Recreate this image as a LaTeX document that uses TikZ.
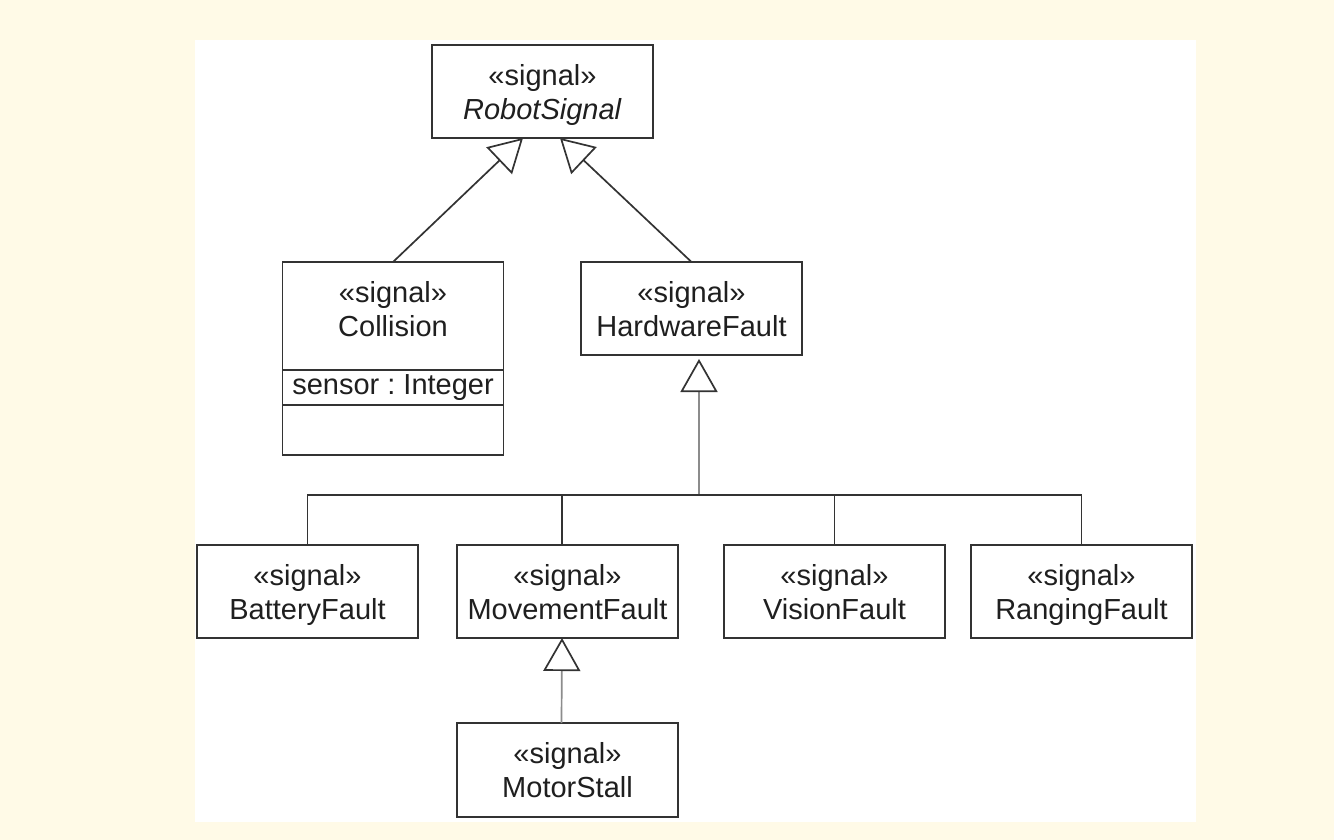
\documentclass[tikz,border=0pt]{standalone}
\usepackage{fontspec}
\setmainfont{Liberation Sans}
\frenchspacing
\usetikzlibrary{arrows.meta}
\definecolor{paper}{RGB}{255,250,231}
\definecolor{umlline}{RGB}{51,51,51}
% stereotype line and name with no descender depth
\newcommand{\signame}[1]{«signal»\\\raisebox{0pt}[\height][0pt]{#1}}
\tikzset{
  sig/.style={draw=umlline, line width=1.7pt, fill=white, minimum width=221pt,
    minimum height=93pt, inner sep=0pt, outer sep=0pt, align=center, text=black!88,
    font=\fontsize{29}{34}\selectfont},
  gen/.style={-{Triangle[open,length=33pt,width=37pt,color=umlline]},
    draw=umlline, line width=1.7pt},
  stem/.style={draw=black!45},
}

\begin{document}
\begin{tikzpicture}[x=1pt,y=-1pt]
  \useasboundingbox[fill=paper] (0,0) rectangle (1334,840);
  \fill[white] (195,40) rectangle (1196,822);
  % abstract root
  \node[sig] (robot) at (542.5,91.5) {\signame{\textit{RobotSignal}}};
  % second level
  \node[sig, minimum height=108pt] (collision) at (393,316) {\signame{Collision}\rule[-14pt]{0pt}{0pt}};
  \node[sig, minimum height=35pt, anchor=north] (colattr) at (collision.south) {sensor : Integer};
  \node[sig, minimum height=50pt, anchor=north] (colops) at (colattr.south) {};
  \node[sig] (hw) at (691.5,308.5) {\signame{HardwareFault}};
  % hardware faults
  \node[sig] (battery) at (307.5,591.5) {\signame{BatteryFault}};
  \node[sig] (movement) at (567.5,591.5) {\signame{MovementFault}};
  \node[sig] (vision) at (834.5,591.5) {\signame{VisionFault}};
  \node[sig] (ranging) at (1081.5,591.5) {\signame{RangingFault}};
  \node[sig, minimum height=94pt] (motor) at (567.5,770) {\signame{MotorStall}};

  \draw[gen] (collision.north) -- ([xshift=-19.5pt]robot.south);
  \draw[gen] (hw.north) -- ([xshift=17.5pt]robot.south);

  \coordinate (bus) at (699,495);
  \coordinate (mvtop) at ([xshift=-5.5pt]movement.north);
  \draw[gen,stem] (bus) -- ([xshift=7.5pt,yshift=-4pt]hw.south);
  \draw[umlline, line width=1.7pt] (battery.north) |- (bus) -| (ranging.north);
  \draw[umlline, line width=1.7pt] (mvtop) -- (mvtop |- bus);
  \draw[umlline, line width=1.7pt] (vision.north) -- (vision.north |- bus);
  \draw[gen,stem] ([xshift=-6pt]motor.north) -- ([xshift=-5.5pt]movement.south);
\end{tikzpicture}
\end{document}
